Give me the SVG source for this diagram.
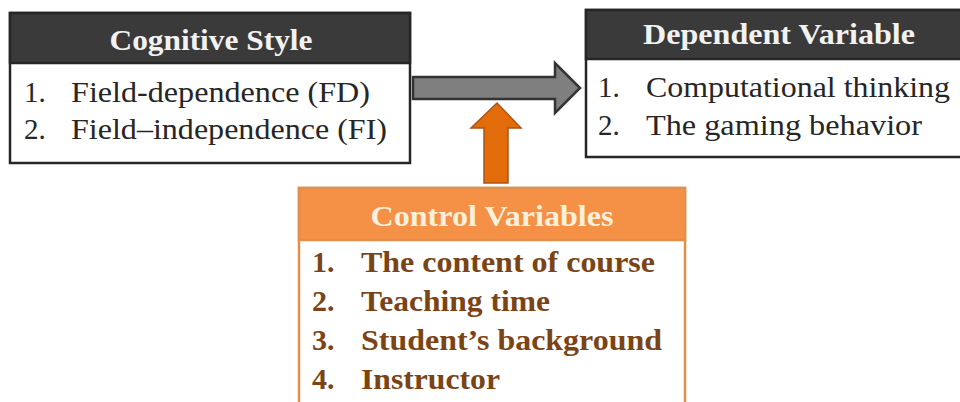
<svg xmlns="http://www.w3.org/2000/svg" width="960" height="402" viewBox="0 0 960 402">
<style>
text{font-family:"Liberation Serif","Times New Roman",Times,serif}
.box{fill:#ffffff;stroke:#262626;stroke-width:2.5}
.hdr{fill:#3a3a3a;stroke:#262626;stroke-width:2.5}
.htxt{font-weight:bold;font-size:30px;fill:#f2f2f2;text-anchor:middle}
.itm{font-size:29px;fill:#262626}
.obox{fill:#ffffff;stroke:#e0904c;stroke-width:2.5}
.ohdr{fill:#f59146;stroke:#e0904c;stroke-width:2.5}
.ohtxt{font-weight:bold;font-size:30px;fill:#fdf0dc;text-anchor:middle}
.oitm{font-weight:bold;font-size:30px;fill:#7a4416}
</style>
<g id="cognitive-style">
<rect class="box" x="10" y="13" width="400" height="150"/>
<rect class="hdr" x="10" y="13" width="400" height="50"/>
<text class="htxt" x="211" y="50" textLength="203" lengthAdjust="spacingAndGlyphs">Cognitive Style</text>
<text class="itm" x="24" y="102">1.</text>
<text class="itm" x="71" y="102" textLength="299" lengthAdjust="spacingAndGlyphs">Field-dependence (FD)</text>
<text class="itm" x="24" y="139">2.</text>
<text class="itm" x="71" y="139" textLength="316" lengthAdjust="spacingAndGlyphs">Field–independence (FI)</text>
</g>
<g id="dependent-variable">
<rect class="box" x="586" y="10" width="390" height="147"/>
<rect class="hdr" x="586" y="10" width="390" height="49"/>
<text class="htxt" x="779" y="44" textLength="272" lengthAdjust="spacingAndGlyphs">Dependent Variable</text>
<text class="itm" x="598" y="97">1.</text>
<text class="itm" x="646" y="97" textLength="304" lengthAdjust="spacingAndGlyphs">Computational thinking</text>
<text class="itm" x="598" y="135">2.</text>
<text class="itm" x="646" y="135" textLength="276" lengthAdjust="spacingAndGlyphs">The gaming behavior</text>
</g>
<g id="control-variables">
<rect class="obox" x="299" y="188" width="386" height="230"/>
<rect class="ohdr" x="299" y="188" width="386" height="52"/>
<text class="ohtxt" x="492" y="226" textLength="243" lengthAdjust="spacingAndGlyphs">Control Variables</text>
<text class="oitm" x="312" y="272">1.</text>
<text class="oitm" x="361" y="272" textLength="294" lengthAdjust="spacingAndGlyphs">The content of course</text>
<text class="oitm" x="312" y="311">2.</text>
<text class="oitm" x="361" y="311" textLength="189" lengthAdjust="spacingAndGlyphs">Teaching time</text>
<text class="oitm" x="312" y="350">3.</text>
<text class="oitm" x="361" y="350" textLength="301" lengthAdjust="spacingAndGlyphs">Student’s background</text>
<text class="oitm" x="312" y="389">4.</text>
<text class="oitm" x="361" y="389" textLength="139" lengthAdjust="spacingAndGlyphs">Instructor</text>
</g>
<g id="connectors">
<polygon points="413,77 555,77 555,63 580,88 555,113 555,99 413,99" fill="#7f7f7f" stroke="#333333" stroke-width="2.5" stroke-linejoin="miter"/>
<polygon points="484,183 484,128 471,128 497,103 521,128 508,128 508,183" fill="#e36c0a" stroke="#a8541a" stroke-width="1.5"/>
</g>
</svg>
